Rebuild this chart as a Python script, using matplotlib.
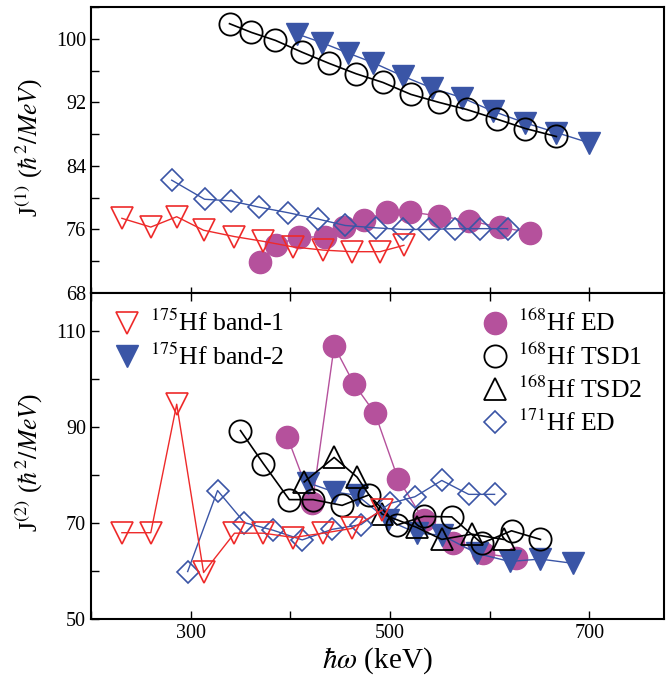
import numpy as np
import matplotlib
matplotlib.use("Agg")
import matplotlib.pyplot as plt
from matplotlib.lines import Line2D
from matplotlib.ticker import MultipleLocator

plt.rcParams['font.family'] = ['Liberation Serif', 'DejaVu Serif']
plt.rcParams['mathtext.fontset'] = 'stix'

RED = '#ee2a2a'
BLUE = '#3a55a6'
MAG = '#b5519c'

# ---- J(1) data (top panel) ----
b1_x1 = [231, 260, 286, 313, 344, 373, 403, 433, 462, 490, 514]
b1_j1 = [77.4, 76.3, 77.6, 75.9, 75.1, 74.5, 73.8, 73.4, 73.2, 73.2, 74.0]

b2_x1 = [407, 432, 458, 483, 513, 542, 572, 603, 636, 667, 700]
b2_j1 = [100.6, 99.5, 98.2, 97.0, 95.3, 93.8, 92.6, 90.9, 89.4, 88.2, 86.9]

ed168_x1 = [370, 386, 409, 435, 454, 474, 497, 520, 549, 579, 610, 641]
ed168_j1 = [71.9, 74.1, 75.0, 75.1, 76.3, 77.2, 78.2, 78.2, 77.7, 77.1, 76.3, 75.6]

tsd1_x1 = [339, 361, 385, 412, 439, 466, 493, 521, 549, 577, 607, 636, 667]
tsd1_j1 = [101.9, 100.8, 99.8, 98.3, 96.9, 95.6, 94.5, 93.0, 92.0, 91.1, 89.9, 88.7, 87.7]

ed171_x1 = [281, 314, 340, 369, 398, 428, 455, 486, 513, 539, 565, 590, 618]
ed171_j1 = [82.2, 79.8, 79.6, 78.8, 78.1, 77.3, 76.5, 76.2, 76.0, 76.0, 76.1, 76.1, 76.1]

# ---- J(2) data (bottom panel) ----
b1_x2 = [231, 260, 286, 313, 344, 373, 403, 433, 462, 492]
b1_j2 = [68.0, 68.0, 94.8, 59.7, 67.9, 67.9, 67.0, 67.9, 68.9, 72.7]

b2_x2 = [418, 444, 467, 498, 527, 552, 587, 620, 651, 684]
b2_j2 = [78.4, 76.5, 75.8, 70.6, 67.9, 67.5, 63.7, 62.0, 62.5, 61.6]

ed168_x2 = [397, 422, 444, 464, 485, 508, 534, 563, 593, 626]
ed168_j2 = [88.0, 74.2, 106.9, 99.0, 92.9, 79.3, 70.6, 65.8, 63.7, 62.7]

tsd1_x2 = [350, 373, 399, 423, 452, 479, 507, 534, 562, 592, 622, 651]
tsd1_j2 = [89.3, 82.4, 74.9, 74.9, 73.7, 75.9, 69.6, 71.4, 71.3, 65.8, 68.4, 66.6]

tsd2_x2 = [414, 444, 467, 492, 527, 552, 582, 614]
tsd2_j2 = [78.6, 83.7, 79.6, 71.9, 69.1, 66.6, 67.7, 66.6]

ed171_x2 = [297, 327, 354, 383, 412, 442, 471, 500, 525, 552, 579, 605]
ed171_j2 = [59.9, 76.8, 70.1, 68.5, 66.5, 68.7, 69.7, 74.1, 75.5, 78.9, 76.0, 76.0]

styles = {
    'ed168': dict(color=MAG, marker='o', ms=16, mfc=MAG, mec=MAG, lw=1.0),
    'b2': dict(color=BLUE, marker='v', ms=16, mfc=BLUE, mec=BLUE, lw=1.0),
    'tsd1': dict(color='black', marker='o', ms=16, mfc='none', mec='black', mew=1.3, lw=1.2),
    'tsd2': dict(color='black', marker='^', ms=16, mfc='none', mec='black', mew=1.3, lw=1.2),
    'ed171': dict(color=BLUE, marker='D', ms=11, mfc='none', mec=BLUE, mew=1.2, lw=1.0),
    'b1': dict(color=RED, marker='v', ms=16, mfc='none', mec=RED, mew=1.2, lw=1.0),
}

fig = plt.figure(figsize=(6.71, 6.79), dpi=100)
L, W = 91 / 671, (664 - 91) / 671
ax1 = fig.add_axes([L, 1 - 293 / 679, W, (293 - 7) / 679])
ax2 = fig.add_axes([L, 1 - 619 / 679, W, (619 - 293) / 679])

ax1.plot(ed168_x1, ed168_j1, **styles['ed168'])
ax1.plot(b2_x1, b2_j1, **styles['b2'])
ax1.plot(tsd1_x1, tsd1_j1, **styles['tsd1'])
ax1.plot(ed171_x1, ed171_j1, **styles['ed171'])
ax1.plot(b1_x1, b1_j1, **styles['b1'])

ax2.plot(ed168_x2, ed168_j2, **styles['ed168'])
ax2.plot(b2_x2, b2_j2, **styles['b2'])
ax2.plot(tsd1_x2, tsd1_j2, **styles['tsd1'])
ax2.plot(tsd2_x2, tsd2_j2, **styles['tsd2'])
ax2.plot(ed171_x2, ed171_j2, **styles['ed171'])
ax2.plot(b1_x2, b1_j2, **styles['b1'])

for ax in (ax1, ax2):
    ax.set_xlim(200, 775)
    ax.xaxis.set_major_locator(MultipleLocator(200))
    ax.xaxis.set_minor_locator(MultipleLocator(100))
    ax.tick_params(which='both', direction='in', length=6, width=1.0,
                   labelsize=14.5)
    for s in ax.spines.values():
        s.set_linewidth(1.5)

ax1.set_ylim(68, 104)
ax1.set_yticks([68, 76, 84, 92, 100])
ax1.yaxis.set_minor_locator(MultipleLocator(4))
ax1.tick_params(axis='x', which='both', labelbottom=False, direction='inout', length=9)

ax2.set_ylim(50, 118)
ax2.set_yticks([50, 70, 90, 110])
ax2.yaxis.set_minor_locator(MultipleLocator(10))
ax2.tick_params(axis='x', which='both', top=True)
ax2.set_xticks([300, 500, 700])

ax1.set_ylabel(r'J$^{(1)}$ ($\hbar^2/MeV$)', fontsize=18.5)
ax2.set_ylabel(r'J$^{(2)}$ ($\hbar^2/MeV$)', fontsize=18.5)
ax1.yaxis.set_label_coords(-0.08, 0.51)
ax2.yaxis.set_label_coords(-0.08, 0.48)
ax2.set_xlabel(r'$\hbar\omega$ (keV)', fontsize=21, labelpad=2)


def handle(key):
    st = dict(styles[key])
    st.pop('lw')
    return Line2D([], [], ls='none', **st)


leg1 = ax2.legend([handle('b1'), handle('b2')],
                  [r'$^{175}$Hf band-1', r'$^{175}$Hf band-2'],
                  loc='upper left', bbox_to_anchor=(0.004, 1.01), frameon=False,
                  fontsize=18.5, handlelength=1.0, handletextpad=0.4,
                  labelspacing=0.28, borderpad=0.3)
ax2.add_artist(leg1)
ax2.legend([handle('ed168'), handle('tsd1'), handle('tsd2'), handle('ed171')],
           [r'$^{168}$Hf ED', r'$^{168}$Hf TSD1', r'$^{168}$Hf TSD2', r'$^{171}$Hf ED'],
           loc='upper left', bbox_to_anchor=(0.646, 1.01), frameon=False,
           fontsize=18.5, handlelength=1.0, handletextpad=0.4,
           labelspacing=0.27, borderpad=0.3)

fig.savefig('out.png', dpi=100)
